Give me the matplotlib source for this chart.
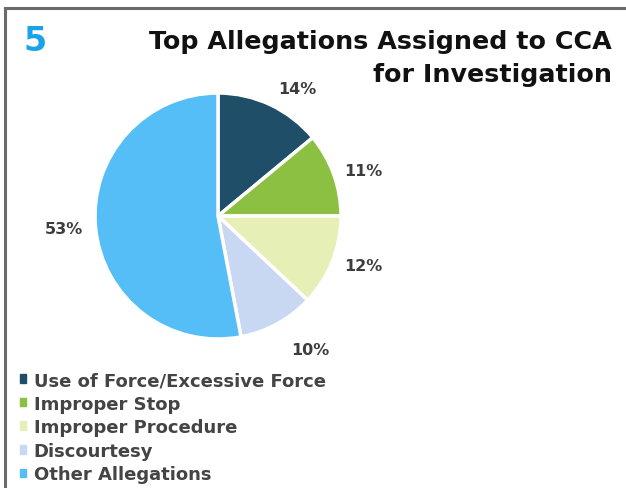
import numpy as np
import matplotlib.pyplot as plt
from matplotlib.patches import Rectangle
from matplotlib.lines import Line2D

# data
categories = ["Use of Force/Excessive Force", "Improper Stop", "Improper Procedure",
              "Discourtesy", "Other Allegations"]
shares = [14, 11, 12, 10, 53]
colors = ["#1f4e68", "#8cc043", "#e6efb6", "#c8d8f3", "#56bef6"]

# label distance from centre (in radii) per slice
label_dist = [1.15, 1.09, 1.1, 1.24, 1.1]

W, H = 626, 489
plt.rcParams["font.family"] = ["DejaVu Sans"]

fig = plt.figure(figsize=(W / 100, H / 100), dpi=100)

# frame lines (top and left)
fig.add_artist(Line2D([5 / W, 1], [1 - 9 / H, 1 - 9 / H], color="#6b6b6b", lw=2.2,
                      transform=fig.transFigure))
fig.add_artist(Line2D([5 / W, 5 / W], [0, 1 - 9 / H], color="#6b6b6b", lw=2.2,
                      transform=fig.transFigure))

# pie
cx, cy, r = 218, 217, 123
ax = fig.add_axes([(cx - r) / W, (H - cy - r) / H, 2 * r / W, 2 * r / H])
wedges, texts = ax.pie(shares, colors=colors, startangle=90, counterclock=False,
                       labels=[f"{v}%" for v in shares], labeldistance=1.1,
                       wedgeprops=dict(edgecolor="white", linewidth=2.5),
                       textprops=dict(fontsize=11.5, fontweight="bold", color="#3d3d3d"))
for w, t, d in zip(wedges, texts, label_dist):
    ang = np.deg2rad((w.theta1 + w.theta2) / 2)
    t.set_position((d * np.cos(ang), d * np.sin(ang)))
    t.set_va("center")
ax.set_xlim(-1, 1)
ax.set_ylim(-1, 1)
ax.set_aspect("equal")

# titles
fig.text(35 / W, 1 - 42 / H, "5", fontsize=24, fontweight="bold", color="#1aa3e8",
         ha="center", va="center")
fig.text(612 / W, 1 - 42 / H, "Top Allegations Assigned to CCA", fontsize=18.3,
         fontweight="bold", color="#111111", ha="right", va="center")
fig.text(612 / W, 1 - 75 / H, "for Investigation", fontsize=18.3,
         fontweight="bold", color="#111111", ha="right", va="center")

# legend
handles = [Rectangle((0, 0), 1, 1, color=c) for c in colors]
fig.legend(handles, categories, loc="upper left", bbox_to_anchor=(20 / W, 1 - 372 / H),
           frameon=False, prop=dict(weight="bold", size=13),
           handlelength=0.35, handleheight=0.35, handletextpad=0.4,
           labelspacing=0.31, labelcolor="#444444", borderpad=0, borderaxespad=0)

fig.savefig("out.png", dpi=100)
